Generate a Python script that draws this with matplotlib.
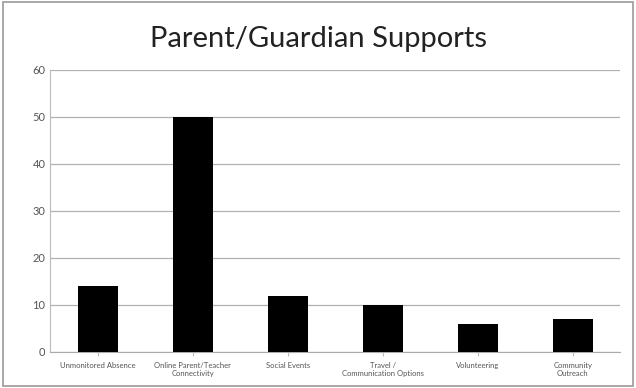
import matplotlib.pyplot as plt
from matplotlib.patches import Rectangle

categories = ['Unmonitored Absence', 'Online Parent/Teacher\nConnectivity', 'Social Events',
              'Travel /\nCommunication Options', 'Volunteering', 'Community\nOutreach']
values = [14, 50, 12, 10, 6, 7]
yticks = [0, 10, 20, 30, 40, 50, 60]

plt.rcParams['font.family'] = ['Lato', 'DejaVu Sans']

fig = plt.figure(figsize=(6.36, 3.88), dpi=100)
fig.patches.append(Rectangle((0.004, 0.005), 0.992, 0.99, transform=fig.transFigure,
                             fill=False, edgecolor='#9a9a9a', linewidth=1.2))
ax = fig.add_axes([0.079, 0.093, 0.896, 0.727])

x = range(len(categories))
ax.bar(x, values, width=0.42, color='black', zorder=3)

ax.set_ylim(0, 60)
ax.set_yticks(yticks)
ax.set_xlim(-0.5, len(categories) - 0.5)
ax.set_xticks(list(x))
ax.set_xticklabels(categories, fontsize=5.5, color='#555555')
ax.tick_params(axis='y', labelsize=8, colors='#555555', length=0)
ax.tick_params(axis='x', length=3, color='#bbbbbb', pad=4)
ax.grid(axis='y', color='#b0b0b0', linewidth=0.9, zorder=0)
for side in ['top', 'right']:
    ax.spines[side].set_visible(False)
ax.spines['left'].set_color('#bbbbbb')
ax.spines['bottom'].set_color('#aaaaaa')

fig.text(0.5, 0.9, 'Parent/Guardian Supports', ha='center', va='center',
         fontsize=21, color='#222222')

fig.savefig('out.png', dpi=100)
